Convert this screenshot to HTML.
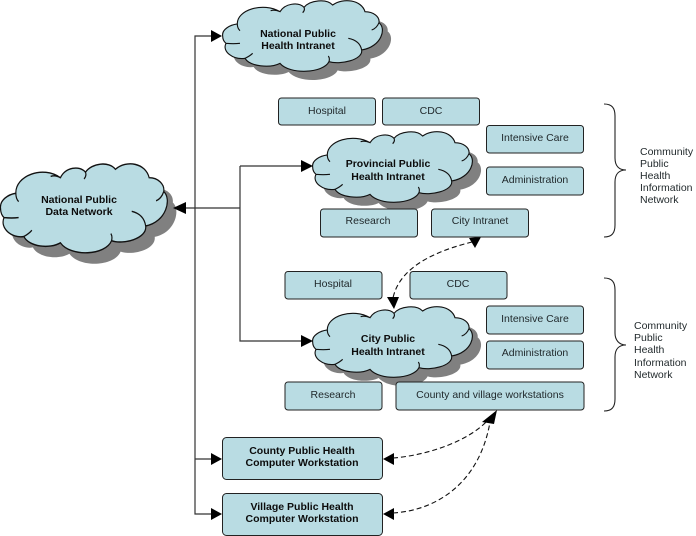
<!DOCTYPE html>
<html><head><meta charset="utf-8"><style>
html,body{margin:0;padding:0;background:#fff}
svg{display:block}
text{font-family:"Liberation Sans",sans-serif;font-size:10.5px;fill:#1f272a;text-anchor:middle}
text.b{font-weight:bold;fill:#0c0c0c}
text.l{text-anchor:start}
.box{fill:#b9dce3;stroke:#222;stroke-width:1}
.ln{fill:none;stroke:#333;stroke-width:1.2}
.d{fill:none;stroke:#111;stroke-width:1.1;stroke-dasharray:5 3}
</style></head><body>
<svg width="696" height="536" viewBox="0 0 696 536" xmlns="http://www.w3.org/2000/svg">
<defs>
<path id="c" d="M128 108 C125 88 150 75 172 72 C170 30 250 5 300 35 C315 10 355 5 372 22 C390 0 440 -5 458 15 C490 -8 545 0 555 35 C580 35 600 50 597 68 C620 85 605 140 545 150 C550 180 480 195 447 185 C430 220 330 225 300 190 C270 205 210 200 195 175 C160 180 125 155 138 130 C132 125 128 118 128 108Z"/>
<path id="s" d="M128 108 C125 88 150 75 172 72 C170 30 250 5 300 35 C315 10 355 5 372 22 C390 0 440 -5 458 15 C490 -8 545 0 555 35 C580 35 600 50 597 68 C620 85 605 140 545 150 C550 180 480 195 447 185 C430 220 330 225 300 190 C270 205 210 200 195 175 C160 180 125 155 138 130 C132 125 128 118 128 108Z M300 35 Q285 28 272 32 M372 22 Q376 30 368 38 M597 68 Q590 85 575 90 M545 150 Q540 122 505 115 M447 185 Q450 175 445 168 M195 175 Q210 168 218 160 M138 130 Q160 132 180 130 M172 72 Q172 85 180 92"/>
<g id="cloud"><use href="#c" transform="translate(26,26)" fill="#808080"/><use href="#c" fill="#b9dce3"/><use href="#s" fill="none" stroke="#111" stroke-width="3.4"/></g>
</defs>
<rect width="696" height="536" fill="#fff"/>

<!-- clouds -->
<use href="#cloud" transform="translate(180,0) scale(.3333)"/>
<use href="#cloud" transform="translate(270,131) scale(.3333)"/>
<use href="#cloud" transform="translate(270,306) scale(.3333)"/>
<use href="#cloud" transform="translate(-44,163) scale(.348,.42)"/>

<!-- connectors -->
<path class="ln" d="M212 36H195V514H212M195 459H212M186 208H240M240 166H303M240 166V341H303"/>
<g fill="#000">
<path d="M222 36L211 30V42Z"/>
<path d="M313 166L301 160V172Z"/>
<path d="M313 341L301 335V347Z"/>
<path d="M173 208L186 202V214Z"/>
<path d="M222 459L211 453V465Z"/>
<path d="M222 514L211 508V520Z"/>
<path d="M481 237L469 238L475 248Z"/>
<path d="M394 309L387 297L399 297Z"/>
<path d="M383 459L394 453V465Z"/>
<path d="M383 514L394 508V520Z"/>
<path d="M497 410L482 422L494 424Z"/>
</g>
<path class="d" d="M472 242C440 250 400 265 393 298"/>
<path class="d" d="M393 458C430 455 470 440 488 420"/>
<path class="d" d="M393 513C440 510 480 480 490 422"/>

<!-- boxes -->
<rect class="box" x="278.5" y="98" width="97" height="27" rx="3"/>
<rect class="box" x="382.5" y="98" width="97" height="27" rx="3"/>
<rect class="box" x="486.5" y="125.5" width="97" height="27.5" rx="3"/>
<rect class="box" x="486.5" y="167" width="97" height="28" rx="3"/>
<rect class="box" x="320.5" y="209" width="97" height="28" rx="3"/>
<rect class="box" x="431.5" y="209" width="97" height="28" rx="3"/>
<rect class="box" x="285" y="271.5" width="97" height="27.5" rx="3"/>
<rect class="box" x="410" y="271.5" width="97" height="27.5" rx="3"/>
<rect class="box" x="486.5" y="306" width="97" height="28" rx="3"/>
<rect class="box" x="486.5" y="341" width="97" height="28" rx="3"/>
<rect class="box" x="285" y="382" width="97" height="28" rx="3"/>
<rect class="box" x="396" y="382" width="188" height="28" rx="3"/>
<rect class="box" x="222.5" y="437.5" width="160" height="42" rx="4"/>
<rect class="box" x="222.5" y="493.5" width="160" height="42" rx="4"/>

<!-- braces -->
<path fill="none" stroke="#222" stroke-width="1.1" d="M604 104C612 104 615 108 615 116V158C615 166 619 170 626 170C619 170 615 174 615 182V225C615 233 612 237 604 237"/>
<path fill="none" stroke="#222" stroke-width="1.1" d="M604 278C612 278 615 282 615 290V333C615 340 619 345 626 345C619 345 615 349 615 357V399C615 407 612 411 604 411"/>

<!-- text -->
<text class="b" x="298" y="37">National Public</text>
<text class="b" x="298" y="49">Health Intranet</text>
<text class="b" x="388" y="167">Provincial Public</text>
<text class="b" x="388" y="180">Health Intranet</text>
<text class="b" x="388" y="342">City Public</text>
<text class="b" x="388" y="355">Health Intranet</text>
<text class="b" x="79" y="203">National Public</text>
<text class="b" x="79" y="215">Data Network</text>
<text x="327" y="114">Hospital</text>
<text x="431" y="114">CDC</text>
<text x="535" y="141">Intensive Care</text>
<text x="535" y="183">Administration</text>
<text x="368" y="224">Research</text>
<text x="480" y="224">City Intranet</text>
<text x="333" y="287">Hospital</text>
<text x="458" y="287">CDC</text>
<text x="535" y="322">Intensive Care</text>
<text x="535" y="356">Administration</text>
<text x="333" y="398">Research</text>
<text x="490" y="398">County and village workstations</text>
<text class="b" x="302" y="454">County Public Health</text>
<text class="b" x="302" y="466">Computer Workstation</text>
<text class="b" x="302" y="510">Village Public Health</text>
<text class="b" x="302" y="522">Computer Workstation</text>
<text class="l" x="640" y="155">Community</text>
<text class="l" x="640" y="167">Public</text>
<text class="l" x="640" y="179">Health</text>
<text class="l" x="640" y="191">Information</text>
<text class="l" x="640" y="203">Network</text>
<text class="l" x="634" y="329">Community</text>
<text class="l" x="634" y="341">Public</text>
<text class="l" x="634" y="353">Health</text>
<text class="l" x="634" y="366">Information</text>
<text class="l" x="634" y="378">Network</text>
</svg>
</body></html>
